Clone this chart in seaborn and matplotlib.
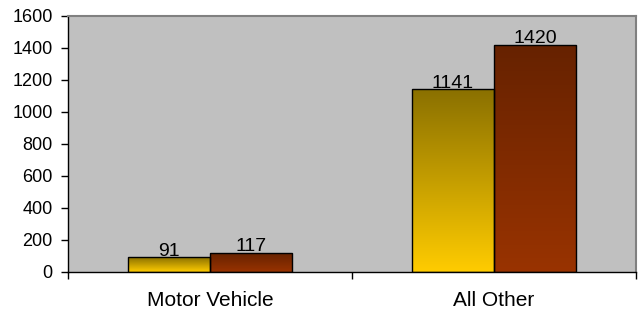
import numpy as np
import pandas as pd
import matplotlib
matplotlib.use("Agg")
import matplotlib.pyplot as plt
import seaborn as sns
from matplotlib.colors import LinearSegmentedColormap

# Data
categories = ["Motor Vehicle", "All Other"]
series = ["A", "B"]
values_a = [91, 1141]
values_b = [117, 1420]

df = pd.DataFrame({
    "category": categories * 2,
    "series": ["A"] * 2 + ["B"] * 2,
    "count": values_a + values_b,
})

sns.set_theme(style="white")
plt.rcParams["font.family"] = ["Liberation Sans", "DejaVu Sans"]
plt.rcParams["text.color"] = "black"
plt.rcParams["xtick.color"] = "black"
plt.rcParams["ytick.color"] = "black"

fig = plt.figure(figsize=(6.38, 3.10), dpi=100)
ax = fig.add_axes([68 / 638, 1 - 272 / 310, 568 / 638, 256 / 310])
ax.set_facecolor("#C0C0C0")

bar = sns.barplot(data=df, x="category", y="count", hue="series",
                  order=categories, hue_order=series,
                  palette=["#FFCC00", "#993300"], width=0.58,
                  edgecolor="black", linewidth=1.0, legend=False, ax=ax)

# gradient fills (bright at the bottom, dark at the top)
cmaps = {
    "A": LinearSegmentedColormap.from_list("a", ["#FFCC00", "#8A7000"]),
    "B": LinearSegmentedColormap.from_list("b", ["#993300", "#662200"]),
}
grad = np.linspace(0, 1, 256).reshape(-1, 1)
for container, s in zip(ax.containers, series):
    for patch in container:
        x0, y0 = patch.get_x(), patch.get_y()
        w, h = patch.get_width(), patch.get_height()
        im = ax.imshow(grad, cmap=cmaps[s], aspect="auto", origin="lower",
                       extent=[x0, x0 + w, y0, y0 + h], zorder=patch.get_zorder() - 0.1)
        im.set_clip_path(patch)
        patch.set_facecolor("none")
    ax.bar_label(container, fontsize=14, padding=-1.5, color="black")

ax.set_xlim(-0.5, 1.5)
ax.set_ylim(0, 1600)
ax.set_yticks(range(0, 1601, 200))
ax.set_xlabel("")
ax.set_ylabel("")

# category ticks sit between the groups
ax.set_xticks([-0.5, 0.5, 1.5])
ax.set_xticklabels([])
ax.set_xticks([0, 1], minor=True)
ax.set_xticklabels(categories, minor=True)
ax.tick_params(axis="x", which="minor", length=0, pad=14, labelsize=15)
ax.tick_params(axis="x", which="major", length=5, width=1, color="black", direction="out")
ax.tick_params(axis="y", length=5, width=1, color="black", direction="out", pad=6, labelsize=13)
ax.tick_params(axis="both", which="both", bottom=True, left=True)

for side in ["top", "right"]:
    ax.spines[side].set_color("#808080")
    ax.spines[side].set_linewidth(1.5)
for side in ["left", "bottom"]:
    ax.spines[side].set_color("black")
    ax.spines[side].set_linewidth(1.0)

fig.savefig("out.png", dpi=100)
